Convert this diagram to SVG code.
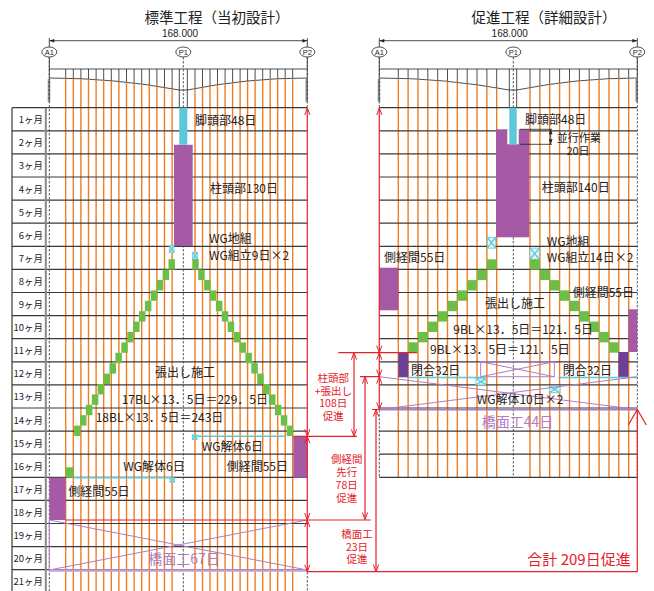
<svg xmlns="http://www.w3.org/2000/svg" width="654" height="591" viewBox="0 0 654 591">
<defs>
<style>
.t{font-family:"Noto Sans CJK JP","Noto Sans",sans-serif;font-size:12px;fill:#222;dominant-baseline:central}
.m{font-size:9.5px;text-anchor:end}
.ttl{font-size:14.5px;text-anchor:middle}
.dim{font-family:"Liberation Sans",sans-serif;font-size:10px;text-anchor:middle;fill:#222}
.cir{font-family:"Liberation Sans",sans-serif;font-size:7.5px;text-anchor:middle;fill:#222;dominant-baseline:central}
.r{fill:#e62129;font-size:10.5px;text-anchor:middle}
.pt{fill:#b07cc6;font-size:14px}
.sm{font-size:11px}
.or{stroke:#f07d22;stroke-width:1.4;fill:none}
.row{stroke:#3a3a3a;stroke-width:1.2;fill:none}
.blk{stroke:#222;stroke-width:0.8;fill:none}
.dash{stroke:#333;stroke-width:0.8;stroke-dasharray:2.5 1.5;fill:none}
.g{fill:#6cbf46}
.pu{fill:#a65aa5}
.dp{fill:#6c3f98}
.cy{fill:#5ec8d8}
.wg{fill:#e4f6f9;stroke:#5ec8d8;stroke-width:0.8}
.cyl{stroke:#5ec8d8;stroke-width:1.4;fill:none}
.pl{stroke:#b07cc6;stroke-width:1;fill:none}
.rd{stroke:#e62129;stroke-width:1.2;fill:none}
.abt{stroke:#888;stroke-width:2.5;fill:none}
</style>
<marker id="ar" viewBox="-8 -4 9 8" markerWidth="9" markerHeight="8" refX="0" refY="0" orient="auto-start-reverse" markerUnits="userSpaceOnUse">
<path d="M-7,-2.6 L0,0 L-7,2.6" fill="none" stroke="#e62129" stroke-width="1"/>
</marker>
<marker id="ab" viewBox="-6 -3 7 6" markerWidth="7" markerHeight="6" refX="0" refY="0" orient="auto-start-reverse" markerUnits="userSpaceOnUse">
<path d="M-5,-1.8 L0,0 L-5,1.8 Z" fill="#222"/>
</marker>
</defs>
<rect width="654" height="591" fill="#fff"/>

<!-- titles -->
<text class="t ttl" x="217" y="16">標準工程（当初設計）</text>
<text class="t ttl" x="544" y="16">促進工程（詳細設計）</text>

<!-- LEFT CHART -->
<g id="left-profile">
<text class="dim" x="180" y="37">168.000</text>
<line x1="49.3" y1="40.7" x2="307.3" y2="40.7" stroke="#222" stroke-width="0.8" marker-start="url(#ab)" marker-end="url(#ab)"/>
<g fill="#fff" stroke="#222" stroke-width="0.8">
<ellipse cx="49.3" cy="52" rx="7.5" ry="5"/><ellipse cx="183.3" cy="52" rx="7.5" ry="5"/><ellipse cx="307.3" cy="52" rx="7.5" ry="5"/>
</g>
<text class="cir" x="49.3" y="52">A1</text><text class="cir" x="183.3" y="52">P1</text><text class="cir" x="307.3" y="52">P2</text>
<path class="blk" d="M49.3,38 V47 M307.3,38 V47 M49.3,57 V78 M307.3,57 V78"/>
<path class="blk" d="M49.3,69 H307.3 M49.3,78 Q114.3,78 179.3,90 H187.3 Q247.3,78 307.3,78 M179.3,90 V107.7 M187.3,90 V107.7 M179.3,69 V90 M187.3,69 V90"/>
<path class="blk" d="M65.7,69V78.19M73.3,69V78.41M80.9,69V78.71M88.5,69V79.09M96.1,69V79.56M103.7,69V80.1M111.3,69V80.73M118.9,69V81.44M126.5,69V82.23M134.1,69V83.1M141.7,69V84.06M149.3,69V85.1M156.9,69V86.22M164.5,69V87.42M172.1,69V88.71M195,69V88.51M202.5,69V87.15M210,69V85.89M217.5,69V84.72M225.1,69V83.63M232.6,69V82.65M240.1,69V81.76M247.6,69V80.97M255.1,69V80.27M262.7,69V79.66M270.2,69V79.15M277.7,69V78.73M285.2,69V78.41M292.7,69V78.18"/>
<path class="abt" d="M49,79 V101.7 M306.8,79 V101.7"/>
</g>
<g id="left-grid">
<path class="or" d="M65.7,78.19V591M73.3,78.41V591M80.9,78.71V591M88.5,79.09V591M96.1,79.56V591M103.7,80.1V591M111.3,80.73V591M118.9,81.44V591M126.5,82.23V591M134.1,83.1V591M141.7,84.06V591M149.3,85.1V591M156.9,86.22V591M164.5,87.42V591M172.1,88.71V591M195,88.51V591M202.5,87.15V591M210,85.89V591M217.5,84.72V591M225.1,83.63V591M232.6,82.65V591M240.1,81.76V591M247.6,80.97V591M255.1,80.27V591M262.7,79.66V591M270.2,79.15V591M277.7,78.73V591M285.2,78.41V591M292.7,78.18V591"/>
<path class="row" d="M12,107.7H307.3M12,130.8H307.3M12,153.9H307.3M12,177H307.3M12,200.1H307.3M12,223.2H307.3M12,246.3H307.3M12,269.4H307.3M12,292.5H307.3M12,315.6H307.3M12,338.7H307.3M12,361.8H307.3M12,384.9H307.3M12,408H307.3M12,431.1H307.3M12,454.2H307.3M12,477.3H307.3M12,500.4H307.3M12,523.5H307.3M12,546.6H307.3M12,569.7H307.3M12,107.7V591"/>
<line x1="45.8" y1="107.7" x2="45.8" y2="591" stroke="#888" stroke-width="2"/>
<path class="dash" d="M49.3,57V591M183.3,57V591M307.3,57V107.7M307.3,572V591"/>
<g class="t m">
<text x="43" y="119.25">1ヶ月</text><text x="43" y="142.35">2ヶ月</text><text x="43" y="165.45">3ヶ月</text><text x="43" y="188.55">4ヶ月</text><text x="43" y="211.65">5ヶ月</text><text x="43" y="234.75">6ヶ月</text><text x="43" y="257.85">7ヶ月</text><text x="43" y="280.95">8ヶ月</text><text x="43" y="304.05">9ヶ月</text><text x="43" y="327.15">10ヶ月</text><text x="43" y="350.25">11ヶ月</text><text x="43" y="373.35">12ヶ月</text><text x="43" y="396.45">13ヶ月</text><text x="43" y="419.55">14ヶ月</text><text x="43" y="442.65">15ヶ月</text><text x="43" y="465.75">16ヶ月</text><text x="43" y="488.85">17ヶ月</text><text x="43" y="511.95">18ヶ月</text><text x="43" y="535.05">19ヶ月</text><text x="43" y="558.15">20ヶ月</text><text x="43" y="581.25">21ヶ月</text>
</g>
</g>
<g id="left-pier">
<rect class="pu" x="174" y="144.8" width="18.7" height="101.2"/>
<rect class="cy" x="179.3" y="107.7" width="8" height="37.1"/>
</g>
<g id="left-wg">
<rect class="wg" x="169.3" y="245.3" width="4.7" height="7"/><path class="cyl" stroke-width="0.6" d="M169.3,245.3l4.7,7m0,-7l-4.7,7"/>
<rect class="wg" x="192.7" y="252.3" width="4.7" height="7"/><path class="cyl" stroke-width="0.6" d="M192.7,252.3l4.7,7m0,-7l-4.7,7"/>
</g>
<g id="left-cantilever" class="g">
<rect x="168.5" y="259.2" width="6.5" height="10.4"/><rect x="162.6" y="269.6" width="6.5" height="10.4"/><rect x="156.7" y="280" width="6.5" height="10.4"/><rect x="150.8" y="290.4" width="6.5" height="10.4"/><rect x="144.9" y="300.8" width="6.5" height="10.4"/><rect x="139" y="311.2" width="6.5" height="10.4"/><rect x="133.1" y="321.6" width="6.5" height="10.4"/><rect x="127.2" y="332" width="6.5" height="10.4"/><rect x="121.3" y="342.4" width="6.5" height="10.4"/><rect x="115.4" y="352.8" width="6.5" height="10.4"/><rect x="109.5" y="363.2" width="6.5" height="10.4"/><rect x="103.6" y="373.6" width="6.5" height="10.4"/><rect x="97.7" y="384" width="6.5" height="10.4"/><rect x="91.8" y="394.4" width="6.5" height="10.4"/><rect x="85.9" y="404.8" width="6.5" height="10.4"/><rect x="80" y="415.2" width="6.5" height="10.4"/><rect x="74.1" y="425.6" width="6.5" height="10.4"/><rect x="65.7" y="467.3" width="7.6" height="10.4"/>
<rect x="192.3" y="259.2" width="6.5" height="10.4"/><rect x="198.2" y="269.6" width="6.5" height="10.4"/><rect x="204.1" y="280" width="6.5" height="10.4"/><rect x="210" y="290.4" width="6.5" height="10.4"/><rect x="215.9" y="300.8" width="6.5" height="10.4"/><rect x="221.8" y="311.2" width="6.5" height="10.4"/><rect x="227.7" y="321.6" width="6.5" height="10.4"/><rect x="233.6" y="332" width="6.5" height="10.4"/><rect x="239.5" y="342.4" width="6.5" height="10.4"/><rect x="245.4" y="352.8" width="6.5" height="10.4"/><rect x="251.3" y="363.2" width="6.5" height="10.4"/><rect x="257.2" y="373.6" width="6.5" height="10.4"/><rect x="263.1" y="384" width="6.5" height="10.4"/><rect x="269" y="394.4" width="6.5" height="10.4"/><rect x="274.9" y="404.8" width="6.5" height="10.4"/><rect x="280.8" y="415.2" width="6.5" height="10.4"/><rect x="286.7" y="425.6" width="6.5" height="10.4"/>
</g>
<g id="left-wg-removal">
<path class="cyl" d="M193,436.3H286M73,477.7H172"/>
<rect class="wg" x="192.5" y="435" width="4.5" height="4.5"/><path class="cyl" stroke-width="0.5" d="M192.5,435l4.5,4.5m0,-4.5l-4.5,4.5"/>
<rect class="wg" x="170" y="477.7" width="4.5" height="4.5"/><path class="cyl" stroke-width="0.5" d="M170,477.7l4.5,4.5m0,-4.5l-4.5,4.5"/>
</g>
<g id="left-sidespan">
<rect class="pu" x="293.3" y="436.5" width="14" height="41.2"/>
<rect class="pu" x="49.3" y="477.7" width="16.4" height="42.3"/>
</g>
<g id="left-deck">
<path class="pl" d="M49.3,520 L307.3,570 M49.3,570 L307.3,520 M49.3,520 V570"/>
<line x1="49.3" y1="570.5" x2="307.3" y2="570.5" stroke="#c9a0d6" stroke-width="2.5"/>
</g>
<g id="left-labels" class="t">
<text x="195" y="119">脚頭部48日</text>
<text x="210" y="187.3">柱頭部130日</text>
<text x="209" y="237">WG地組</text>
<text x="209" y="254">WG組立9日×2</text>
<text x="155" y="371">張出し施工</text>
<text x="121.7" y="398.3">17BL×13．5日＝229．5日</text>
<text x="95.7" y="416.7">18BL×13．5日＝243日</text>
<text x="201.7" y="445">WG解体6日</text>
<text x="123.3" y="465.7">WG解体6日</text>
<text x="226.7" y="465.7">側経間55日</text>
<text x="68.3" y="490">側経間55日</text>
<text class="t pt" x="148.3" y="558.3">橋面工67日</text>
</g>

<!-- RIGHT CHART -->
<g id="right-profile">
<text class="dim" x="509.7" y="37">168.000</text>
<line x1="379.3" y1="40.7" x2="637.3" y2="40.7" stroke="#222" stroke-width="0.8" marker-start="url(#ab)" marker-end="url(#ab)"/>
<g fill="#fff" stroke="#222" stroke-width="0.8">
<ellipse cx="379.3" cy="52" rx="7.5" ry="5"/><ellipse cx="513.3" cy="52" rx="7.5" ry="5"/><ellipse cx="637.3" cy="52" rx="7.5" ry="5"/>
</g>
<text class="cir" x="379.3" y="52">A1</text><text class="cir" x="513.3" y="52">P1</text><text class="cir" x="637.3" y="52">P2</text>
<path class="blk" d="M379.3,38 V47 M637.3,38 V47 M379.3,57 V78 M637.3,57 V78"/>
<path class="blk" d="M379.3,69 H637.3 M379.3,78 Q444.3,78 509.3,90 H516.7 Q577,78 637.3,78 M509.3,90 V107.7 M516.7,90 V107.7 M509.3,69 V90 M516.7,69 V90"/>
<path class="blk" d="M398.3,69V78.26M408.1,69V78.59M418,69V79.06M427.8,69V79.67M437.7,69V80.42M447.5,69V81.31M457.3,69V82.32M467.2,69V83.49M477,69V84.78M486.9,69V86.22M496.7,69V87.79M530,69V87.5M539.9,69V85.83M549.7,69V84.33M559.6,69V82.98M569.5,69V81.79M579.4,69V80.76M589.2,69V79.91M599.1,69V79.2M609,69V78.66M618.8,69V78.28M628.7,69V78.06"/>
<path class="abt" d="M379,79 V101.7 M636.8,79 V101.7"/>
</g>
<g id="right-grid">
<path class="or" d="M398.3,78.26V477.3M408.1,78.59V477.3M418,79.06V477.3M427.8,79.67V477.3M437.7,80.42V477.3M447.5,81.31V477.3M457.3,82.32V477.3M467.2,83.49V477.3M477,84.78V477.3M486.9,86.22V477.3M496.7,87.79V477.3M530,87.5V477.3M539.9,85.83V477.3M549.7,84.33V477.3M559.6,82.98V477.3M569.5,81.79V477.3M579.4,80.76V477.3M589.2,79.91V477.3M599.1,79.2V477.3M609,78.66V477.3M618.8,78.28V477.3M628.7,78.06V477.3"/>
<path class="row" d="M379.3,107.7H637.3M379.3,130.8H637.3M379.3,153.9H637.3M379.3,177H637.3M379.3,200.1H637.3M379.3,223.2H637.3M379.3,246.3H637.3M379.3,269.4H637.3M379.3,292.5H637.3M379.3,315.6H637.3M379.3,338.7H637.3M379.3,361.8H637.3M379.3,384.9H637.3M379.3,408H637.3M379.3,431.1H637.3M379.3,454.2H637.3M379.3,477.3H637.3"/>
<path class="dash" d="M379.3,57V107.7M379.3,410V477.3M513.3,57V477.3M637.3,57V477.3"/>
</g>
<g id="right-pier">
<rect class="pu" x="496" y="129.3" width="33.3" height="108"/>
<rect fill="#fff" x="507.3" y="129.3" width="11.4" height="15"/>
<rect class="cy" x="509.3" y="107.7" width="7.4" height="36.6"/>
</g>
<g id="right-parallel">
<path class="blk" d="M520,129.3H552M520,144.3H552"/>
<line x1="550.7" y1="129.3" x2="550.7" y2="144.3" stroke="#222" stroke-width="0.8" marker-start="url(#ab)" marker-end="url(#ab)"/>
<text class="t sm" x="556.7" y="137">並行作業</text>
<text class="t sm" x="578" y="150" text-anchor="middle">20日</text>
</g>
<g id="right-wg">
<rect class="wg" x="487.3" y="237.3" width="8.4" height="10.8"/><path class="cyl" stroke-width="0.6" d="M487.3,237.3l8.4,10.8m0,-10.8l-8.4,10.8"/>
<rect class="wg" x="530" y="248.1" width="9.3" height="11.2"/><path class="cyl" stroke-width="0.6" d="M530,248.1l9.3,11.2m0,-11.2l-9.3,11.2"/>
</g>
<g id="right-cantilever" class="g">
<rect x="486.9" y="259.3" width="9.84" height="10.38"/><rect x="477.1" y="269.7" width="9.84" height="10.38"/><rect x="467.2" y="280.1" width="9.84" height="10.38"/><rect x="457.4" y="290.4" width="9.84" height="10.38"/><rect x="447.5" y="300.8" width="9.84" height="10.38"/><rect x="437.7" y="311.2" width="9.84" height="10.38"/><rect x="427.9" y="321.6" width="9.84" height="10.38"/><rect x="418" y="332" width="9.84" height="10.38"/><rect x="408.2" y="342.3" width="9.84" height="10.38"/>
<rect x="530" y="259.3" width="9.87" height="10.38"/><rect x="539.9" y="269.7" width="9.87" height="10.38"/><rect x="549.7" y="280.1" width="9.87" height="10.38"/><rect x="559.6" y="290.4" width="9.87" height="10.38"/><rect x="569.5" y="300.8" width="9.87" height="10.38"/><rect x="579.4" y="311.2" width="9.87" height="10.38"/><rect x="589.2" y="321.6" width="9.87" height="10.38"/><rect x="599.1" y="332" width="9.87" height="10.38"/><rect x="609" y="342.3" width="9.87" height="10.38"/>
</g>
<g id="right-sidespan">
<rect class="pu" x="379.3" y="267.7" width="19" height="42.6"/>
<rect class="pu" x="628.3" y="309.3" width="9" height="42.7"/>
</g>
<g id="right-closure">
<rect class="dp" x="398.3" y="352.7" width="10" height="24.6"/>
<rect class="dp" x="618.5" y="352" width="9.8" height="25"/>
<rect class="pl" x="480.7" y="361.7" width="73.6" height="15"/>
<path class="pl" d="M480.7,361.7L554.3,376.7M480.7,376.7L554.3,361.7"/>
</g>
<g id="right-wg-removal">
<path class="cyl" d="M408.3,377.5H485M558.3,377.5H636.7"/>
<rect class="wg" x="476" y="378.3" width="10" height="6.7"/><path class="cyl" stroke-width="0.6" d="M476,378.3l10,6.7m0,-6.7l-10,6.7"/>
<rect class="wg" x="549.3" y="386" width="10.7" height="6.7"/><path class="cyl" stroke-width="0.6" d="M549.3,386l10.7,6.7m0,-6.7l-10.7,6.7"/>
</g>
<g id="right-deck">
<path class="pl" d="M379.3,376.7L637.3,409.5M379.3,409.5L637.3,376.7"/>
<line x1="379.3" y1="409.8" x2="637.3" y2="409.8" stroke="#b07cc6" stroke-width="1.6"/>
</g>
<g id="right-labels" class="t">
<text x="525" y="118">脚頭部48日</text>
<text x="541.7" y="186.7">柱頭部140日</text>
<text x="546.7" y="240">WG地組</text>
<text x="546.7" y="256">WG組立14日×2</text>
<text x="384" y="256">側経間55日</text>
<text x="572.7" y="291.7">側経間55日</text>
<text x="485" y="302.3">張出し施工</text>
<text x="453.3" y="328.3">9BL×13．5日＝121．5日</text>
<text x="430" y="348.3">9BL×13．5日＝121．5日</text>
<text x="411" y="369">閉合32日</text>
<text x="562.7" y="369">閉合32日</text>
<text x="476.7" y="398.3">WG解体10日×2</text>
<text class="t pt" x="481.7" y="421">橋面工44日</text>
</g>

<!-- red comparison dimensions -->
<g id="connectors">
<path class="rd" d="M338.3,352.7H417M360,376.7H380M372,409.5H380M293.3,436.3H357M65.7,520H370.7M307.3,571.7H637.3"/>
<line class="rd" stroke="#c8203e" x1="307.3" y1="108" x2="307.3" y2="436.3" marker-start="url(#ar)" marker-end="url(#ar)"/>
<line class="rd" stroke="#c8203e" x1="307.3" y1="436.3" x2="307.3" y2="520" marker-start="url(#ar)" marker-end="url(#ar)"/>
<line class="rd" stroke="#c8203e" x1="307.3" y1="520" x2="307.3" y2="571.7" marker-start="url(#ar)" marker-end="url(#ar)"/>
<line class="rd" x1="379.3" y1="108" x2="379.3" y2="352.7" marker-start="url(#ar)" marker-end="url(#ar)"/>
<line class="rd" x1="379.3" y1="352.7" x2="379.3" y2="376.7" marker-start="url(#ar)" marker-end="url(#ar)"/>
<line class="rd" x1="379.3" y1="376.7" x2="379.3" y2="409.5" marker-start="url(#ar)" marker-end="url(#ar)"/>
<line class="rd" x1="354" y1="352.7" x2="354" y2="436.3" marker-start="url(#ar)" marker-end="url(#ar)"/>
<line class="rd" x1="365" y1="376.7" x2="365" y2="519.5" marker-start="url(#ar)" marker-end="url(#ar)"/>
<line class="rd" x1="376" y1="409.5" x2="376" y2="571.7" marker-start="url(#ar)" marker-end="url(#ar)"/>
<path class="rd" stroke-width="1.5" d="M637.3,571.7V409.5M628.3,425L637.3,409.5L646.3,425"/>
</g>
<g id="red-labels" class="t r">
<text x="333.3" y="377">柱頭部</text>
<text x="333.3" y="390">+張出し</text>
<text x="333.3" y="402.5">108日</text>
<text x="333.3" y="415">促進</text>
<text x="346.7" y="458">側経間</text>
<text x="346.7" y="471.5">先行</text>
<text x="346.7" y="484">78日</text>
<text x="346.7" y="497">促進</text>
<text x="357" y="533.3">橋面工</text>
<text x="357" y="546">23日</text>
<text x="357" y="558.5">促進</text>
<text x="579" y="558.5" style="font-size:15px">合計 209日促進</text>
</g>
</svg>
